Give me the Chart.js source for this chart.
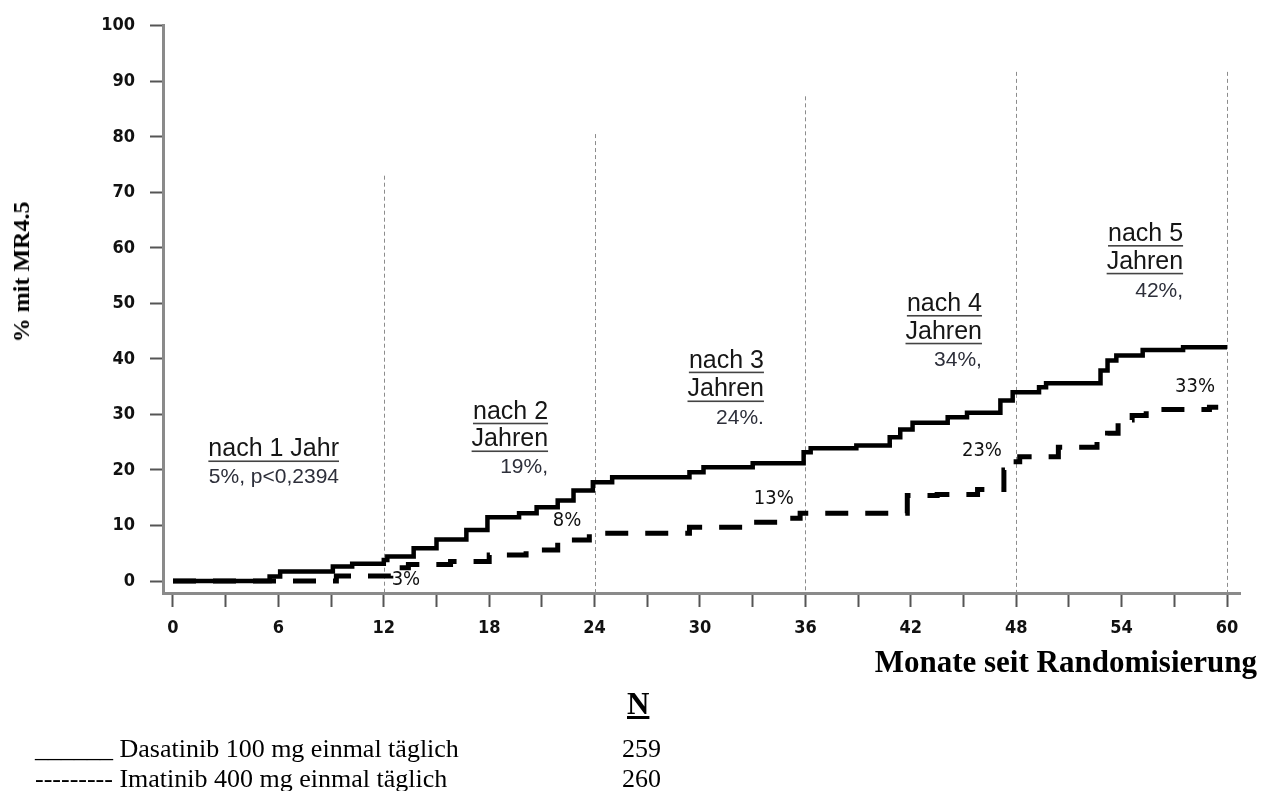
<!DOCTYPE html>
<html>
<head>
<meta charset="utf-8">
<script src="https://cdn.jsdelivr.net/npm/chart.js@4.4.1/dist/chart.umd.min.js"></script>
<style>
  html, body { margin: 0; padding: 0; background: #fff; }
  #wrap { position: relative; width: 1262px; height: 791px; overflow: hidden; }
  #chart { position: absolute; left: 0; top: 0; }
  .lbl { position: absolute; white-space: pre; color: #000; font-family: 'Liberation Serif', 'Times New Roman', serif; }
</style>
</head>
<body>
<div id="wrap">
  <canvas id="chart" width="1262" height="791"></canvas>
  <div class="lbl" style="left:21px; top:272px; transform:translate(-50%,-50%) rotate(-90deg); font-weight:bold; font-size:24px; line-height:28px;">% mit MR4.5</div>
  <div class="lbl" style="right:5px; top:644px; font-weight:bold; font-size:31px; line-height:36px;">Monate seit Randomisierung</div>
  <div class="lbl" style="left:627px; top:686px; font-weight:bold; font-size:31px; line-height:36px; text-decoration:underline;">N</div>
  <div class="lbl" style="left:35px; top:734px; font-size:26px; line-height:30px;">______ Dasatinib 100 mg einmal täglich</div>
  <div class="lbl" style="left:622px; top:734px; font-size:26px; line-height:30px;">259</div>
  <div class="lbl" style="left:35px; top:764px; font-size:26px; line-height:30px;">--------- Imatinib 400 mg einmal täglich</div>
  <div class="lbl" style="left:622px; top:764px; font-size:26px; line-height:30px;">260</div>
</div>
<script>
// Kaplan-Meier artige Stufenkurven: Monat des Sprungs -> neuer Anteil (%)
const dasatinibMonths = [0, 5.5, 6.1, 9.1, 10.2, 12.0, 12.2, 13.7, 15.0, 16.7, 17.9, 19.7, 20.7, 21.9, 22.8, 23.9, 25.0, 29.4, 30.2, 33.0, 35.9, 36.3, 38.9, 40.8, 41.4, 42.1, 44.1, 45.2, 47.1, 47.8, 49.3, 49.7, 52.8, 53.2, 53.7, 55.2, 57.5, 60];
const dasatinibPct    = [0, 0.8, 1.7, 2.6, 3.1, 3.8, 4.4, 5.9, 7.5, 9.2, 11.5, 12.2, 13.3, 14.5, 16.3, 17.8, 18.7, 19.6, 20.5, 21.2, 23.2, 23.9, 24.4, 25.9, 27.3, 28.5, 29.5, 30.3, 32.5, 34.0, 34.9, 35.6, 37.9, 39.7, 40.6, 41.6, 42.1, 42.1];

const imatinibMonths = [0, 9.3, 12.4, 13.4, 15.8, 18.0, 20.1, 21.9, 23.7, 29.4, 33.0, 34.9, 35.7, 41.8, 43.5, 45.8, 47.3, 47.8, 48.2, 50.4, 52.6, 53.2, 53.8, 54.6, 55.4, 59.0, 59.5];
const imatinibPct    = [0, 0.9, 2.4, 3.0, 3.5, 4.7, 5.6, 7.4, 8.6, 9.7, 10.6, 11.3, 12.2, 15.4, 15.6, 16.5, 20.0, 21.5, 22.4, 24.1, 25.5, 26.6, 29.0, 29.8, 30.9, 31.3, 31.3];

const xTickMonths  = [0, 3, 6, 9, 12, 15, 18, 21, 24, 27, 30, 33, 36, 39, 42, 45, 48, 51, 54, 57, 60];
const xLabelMonths = [0, 6, 12, 18, 24, 30, 36, 42, 48, 54, 60];
const yTickValues  = [0, 10, 20, 30, 40, 50, 60, 70, 80, 90, 100];

// gestrichelte Hilfslinien je Jahr (obere Grenze in %)
const yearLineMonths = [12, 24, 36, 48, 60];
const yearLineTops   = [73, 80.5, 87.3, 91.7, 91.7];

// Textblöcke: Zeilen mit Text und Höhe (%), rechtsbündig am Monat
const yearNotes = [
  { month: 9.45, rows: [['nach 1 Jahr', 23.7, true], ['5%, p<0,2394', 18.7, false]] },
  { month: 21.35, rows: [['nach 2', 30.5, true], ['Jahren', 25.5, true], ['19%,', 20.5, false]] },
  { month: 33.64, rows: [['nach 3', 39.7, true], ['Jahren', 34.5, true], ['24%.', 29.3, false]] },
  { month: 46.05, rows: [['nach 4', 49.9, true], ['Jahren', 44.9, true], ['34%,', 39.7, false]] },
  { month: 57.5, rows: [['nach 5', 62.5, true], ['Jahren', 57.5, true], ['42%,', 52.2, false]] }
];
const imatinibNotes = [['3%', 13.26, 0.2], ['8%', 22.43, 10.9], ['13%', 34.2, 14.9], ['23%', 46.05, 23.5], ['33%', 58.18, 35.0]];

const toPoints = (xs, ys) => xs.map((x, i) => ({ x: x, y: ys[i] }));

const extras = {
  id: 'extras',
  beforeDatasetsDraw(chart) {
    const { ctx, scales: { x, y } } = chart;
    ctx.save();
    ctx.strokeStyle = '#8c8c8c';
    ctx.lineWidth = 1;
    ctx.setLineDash([4, 3]);
    yearLineMonths.forEach((m, i) => {
      const px = Math.round(x.getPixelForValue(m)) + 0.5;
      ctx.beginPath();
      ctx.moveTo(px, y.getPixelForValue(yearLineTops[i]));
      ctx.lineTo(px, y.bottom);
      ctx.stroke();
    });
    ctx.restore();
  },
  afterDatasetsDraw(chart) {
    const { ctx, scales: { x, y } } = chart;
    ctx.save();
    ctx.textAlign = 'right';
    ctx.textBaseline = 'middle';
    yearNotes.forEach(note => {
      const px = x.getPixelForValue(note.month);
      note.rows.forEach(([text, val, underline]) => {
        const py = y.getPixelForValue(val);
        if (underline) {
          ctx.font = '25px "Liberation Sans", Arial, sans-serif';
          ctx.fillStyle = '#161616';
        } else {
          ctx.font = '21px "Liberation Sans", Arial, sans-serif';
          ctx.fillStyle = '#2d2f3a';
        }
        ctx.fillText(text, px, py);
        if (underline) {
          const w = ctx.measureText(text).width;
          ctx.fillStyle = '#444';
          ctx.fillRect(px - w, py + 11, w, 1.6);
        }
      });
    });
    ctx.textAlign = 'center';
    ctx.fillStyle = '#111';
    ctx.font = '20px "DejaVu Sans Condensed", "DejaVu Sans", sans-serif';
    imatinibNotes.forEach(([text, m, val]) => {
      ctx.fillText(text, x.getPixelForValue(m), y.getPixelForValue(val));
    });
    ctx.restore();
  }
};

const tickFont = { family: '"DejaVu Sans Condensed", "DejaVu Sans", sans-serif', size: 18, weight: 'bold' };

new Chart(document.getElementById('chart'), {
  type: 'line',
  data: {
    datasets: [
      {
        label: 'Dasatinib 100 mg einmal täglich',
        data: toPoints(dasatinibMonths, dasatinibPct),
        borderColor: '#000',
        borderWidth: 4.5,
        stepped: 'before',
        pointRadius: 0,
        borderCapStyle: 'butt'
      },
      {
        label: 'Imatinib 400 mg einmal täglich',
        data: toPoints(imatinibMonths, imatinibPct),
        borderColor: '#000',
        borderWidth: 5,
        borderDash: [23, 17],
        stepped: 'before',
        pointRadius: 0,
        borderCapStyle: 'butt'
      }
    ]
  },
  options: {
    responsive: false,
    animation: false,
    events: [],
    layout: { padding: { left: 0, top: 24, right: 22, bottom: 138 } },
    plugins: { legend: { display: false }, tooltip: { enabled: false } },
    scales: {
      x: {
        type: 'linear',
        min: -0.569,
        max: 60.74,
        afterBuildTicks: s => { s.ticks = xTickMonths.map(v => ({ value: v })); },
        afterFit: s => { s.height = 60; },
        ticks: {
          autoSkip: false,
          maxRotation: 0,
          padding: 11,
          color: '#111',
          font: tickFont,
          callback: v => (xLabelMonths.includes(v) ? String(v) : '')
        },
        grid: { drawOnChartArea: false, drawTicks: true, tickLength: 14, tickColor: '#555', tickWidth: 2 },
        border: { display: true, color: '#8a8a8a', width: 3 }
      },
      y: {
        type: 'linear',
        min: -2.154,
        max: 100,
        afterBuildTicks: s => { s.ticks = yTickValues.map(v => ({ value: v })); },
        afterFit: s => { s.width = 163; },
        ticks: { padding: 15, color: '#111', font: tickFont },
        grid: { drawOnChartArea: false, drawTicks: true, tickLength: 13, tickColor: '#555', tickWidth: 2 },
        border: { display: true, color: '#8a8a8a', width: 3 }
      }
    }
  },
  plugins: [extras]
});
</script>
</body>
</html>
